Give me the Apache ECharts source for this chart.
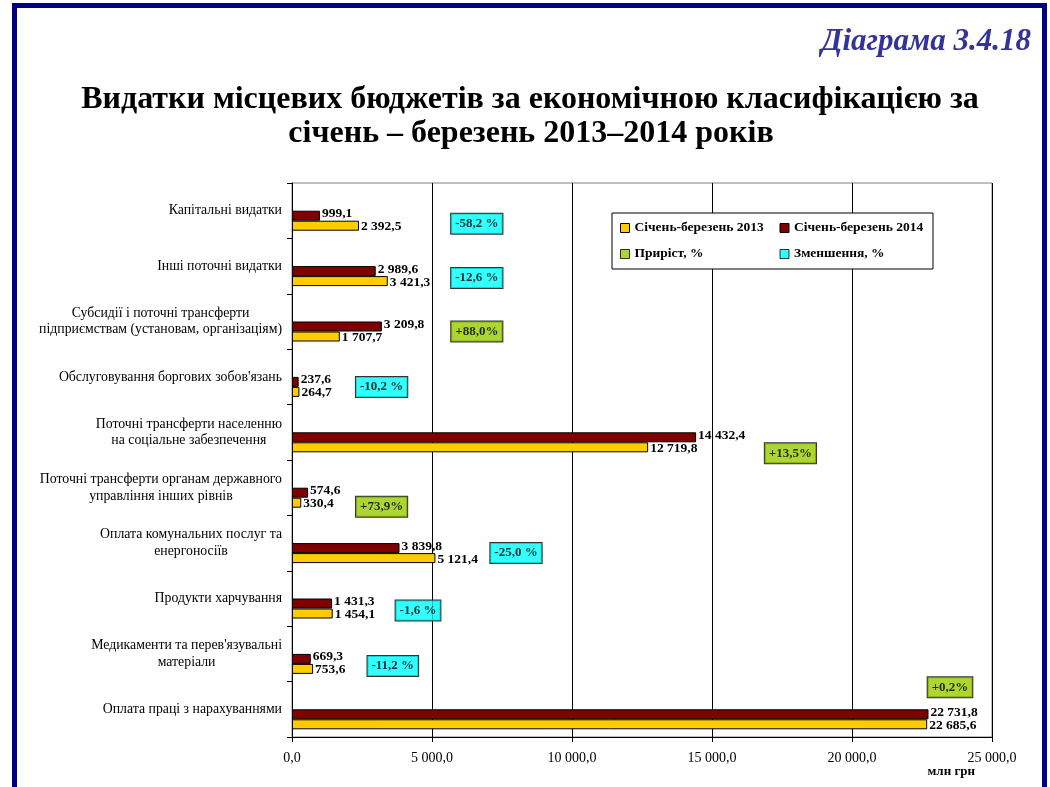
<!DOCTYPE html>
<html>
<head>
<meta charset="utf-8">
<script src="https://cdn.jsdelivr.net/npm/echarts@6/dist/echarts.min.js"></script>
<style>
  html, body { margin: 0; padding: 0; background: #ffffff; }
  #chart { width: 1050px; height: 787px; }
</style>
</head>
<body>
<div id="chart"></div>
<script>
// Expenditure items (economic classification), top to bottom
const categories = [
  'Капітальні видатки',
  'Інші поточні видатки',
  'Субсидії і поточні трансферти\nпідприємствам (установам, організаціям)',
  'Обслуговування боргових зобов\'язань',
  'Поточні трансферти населенню\nна соціальне забезпечення',
  'Поточні трансферти органам державного\nуправління інших рівнів',
  'Оплата комунальних послуг та\nенергоносіїв',
  'Продукти харчування',
  'Медикаменти та перев\'язувальні\nматеріали',
  'Оплата праці з нарахуваннями'
];

// млн грн
const values2013 = [2392.5, 3421.3, 1707.7, 264.7, 12719.8, 330.4, 5121.4, 1454.1, 753.6, 22685.6];
const values2014 = [999.1, 2989.6, 3209.8, 237.6, 14432.4, 574.6, 3839.8, 1431.3, 669.3, 22731.8];

// change 2014 vs 2013, %
const changePct = [-58.2, -12.6, 88.0, -10.2, 13.5, 73.9, -25.0, -1.6, -11.2, 0.2];

// value axis ticks
const xTicks = [0, 5000, 10000, 15000, 20000, 25000];

// where each change badge sits: along the value axis, and vertical nudge in px
const badgeAt = [6600, 6600, 6600, 3200, 17800, 3200, 8000, 4500, 3600, 23500];
const badgeShift = [13, 12, 10, 10, 21, 19, 10, 12, 12, -22];

const SERIF = '"Liberation Serif", "Times New Roman", serif';
const C2013 = '#FFCC00';
const C2014 = '#800000';
const CUP = '#99CC00';
const CDOWN = '#00FFFF';

function fmtNum(v) {
  const parts = v.toFixed(1).split('.');
  return parts[0].replace(/\B(?=(\d{3})+(?!\d))/g, ' ') + ',' + parts[1];
}
function fmtPct(p) {
  const s = Math.abs(p).toFixed(1).replace('.', ',');
  return p >= 0 ? '+' + s + '%' : '-' + s + ' %';
}

function badgeData(up) {
  const out = [];
  changePct.forEach((p, i) => {
    if ((p >= 0) === up) {
      out.push({
        value: [badgeAt[i], i],
        pct: p,
        label: { offset: [0, badgeShift[i]] }
      });
    }
  });
  return out;
}

function badgeSeries(name, color, up) {
  return {
    name: name,
    type: 'scatter',
    symbol: 'rect',
    symbolSize: 0,
    itemStyle: { color: color },
    z: 5,
    data: badgeData(up),
    label: {
      show: true,
      position: 'inside',
      formatter: (p) => fmtPct(p.data.pct),
      backgroundColor: color,
      borderColor: '#000',
      borderWidth: 1,
      padding: [4, 4, 3, 4],
      color: '#000',
      fontFamily: SERIF,
      fontWeight: 'bold',
      fontSize: 13
    }
  };
}

const barLabel = (dy) => ({
  show: true,
  position: 'right',
  distance: 2,
  offset: [0, dy],
  color: '#000',
  fontFamily: SERIF,
  fontWeight: 'bold',
  fontSize: 13.5,
  formatter: (p) => fmtNum(p.value)
});

const chart = echarts.init(document.getElementById('chart'), null, { renderer: 'canvas' });

chart.setOption({
  backgroundColor: '#ffffff',
  animation: false,
  graphic: [
    {
      type: 'rect',
      shape: { x: 14.5, y: 5.5, width: 1030, height: 800 },
      style: { fill: 'none', stroke: '#000080', lineWidth: 5 },
      z: 100
    },
    {
      type: 'text',
      style: {
        x: 1031, y: 42,
        text: 'Діаграма 3.4.18',
        textAlign: 'right', textVerticalAlign: 'middle',
        fill: '#333399',
        font: 'italic bold 31px ' + SERIF
      }
    },
    {
      type: 'text',
      style: {
        x: 530, y: 100,
        text: 'Видатки місцевих бюджетів за економічною класифікацією за',
        textAlign: 'center', textVerticalAlign: 'middle',
        fill: '#000',
        font: 'bold 32px ' + SERIF
      }
    },
    {
      type: 'text',
      style: {
        x: 531, y: 134,
        text: 'січень – березень 2013–2014 років',
        textAlign: 'center', textVerticalAlign: 'middle',
        fill: '#000',
        font: 'bold 32px ' + SERIF
      }
    },
    {
      type: 'text',
      style: {
        x: 975, y: 772,
        text: 'млн грн',
        textAlign: 'right', textVerticalAlign: 'middle',
        fill: '#000',
        font: 'bold 13px ' + SERIF
      }
    }
  ],
  legend: {
    left: 612,
    top: 213,
    width: 320,
    orient: 'horizontal',
    selectedMode: false,
    backgroundColor: '#ffffff',
    borderColor: '#000',
    borderWidth: 1,
    padding: [2, 8],
    itemGap: 0,
    itemWidth: 9,
    itemHeight: 9,
    icon: 'rect',
    itemStyle: { borderColor: '#000', borderWidth: 1 },
    textStyle: {
      fontFamily: SERIF, fontWeight: 'bold', fontSize: 13.5,
      color: '#000', width: 145, lineHeight: 26
    },
    data: [
      { name: 'Січень-березень 2013' },
      { name: 'Січень-березень 2014', textStyle: { width: 131 } },
      { name: 'Приріст, %' },
      { name: 'Зменшення, %', textStyle: { width: 131 } }
    ]
  },
  grid: {
    left: 292, top: 183, width: 700, height: 554,
    show: true, borderColor: '#808080', borderWidth: 1,
    containLabel: false
  },
  xAxis: {
    type: 'value',
    min: xTicks[0],
    max: xTicks[xTicks.length - 1],
    interval: xTicks[1] - xTicks[0],
    axisLine: { show: true, lineStyle: { color: '#000', width: 1 } },
    axisTick: { show: true, length: 5, lineStyle: { color: '#000' } },
    splitLine: { show: true, lineStyle: { color: '#000', width: 1 } },
    axisLabel: {
      margin: 14,
      color: '#000', fontFamily: SERIF, fontSize: 14,
      formatter: (v) => fmtNum(v)
    }
  },
  yAxis: {
    type: 'category',
    inverse: true,
    data: categories,
    axisLine: { show: true, lineStyle: { color: '#000', width: 1 } },
    axisTick: { show: true, length: 5, lineStyle: { color: '#000' } },
    splitLine: { show: false },
    axisLabel: {
      interval: 0,
      margin: 10,
      color: '#000', fontFamily: SERIF, fontSize: 13.8,
      formatter: (v) => v.split('\n').map(l => '{c|' + l + '}').join('\n'),
      rich: {
        c: { align: 'center', fontFamily: SERIF, fontSize: 13.8, lineHeight: 16.5, color: '#000' }
      }
    }
  },
  series: [
    {
      name: 'spacer',
      type: 'bar',
      silent: true,
      barWidth: 20,
      barGap: '0%',
      data: categories.map(() => null)
    },
    {
      name: 'Січень-березень 2014',
      type: 'bar',
      barWidth: 10,
      barGap: '0%',
      itemStyle: { color: C2014, borderColor: '#000', borderWidth: 1 },
      label: barLabel(-2),
      data: values2014
    },
    {
      name: 'Січень-березень 2013',
      type: 'bar',
      barWidth: 10,
      barGap: '0%',
      itemStyle: { color: C2013, borderColor: '#000', borderWidth: 1 },
      label: barLabel(1),
      data: values2013
    },
    badgeSeries('Приріст, %', CUP, true),
    badgeSeries('Зменшення, %', CDOWN, false)
  ]
});
</script>
</body>
</html>
